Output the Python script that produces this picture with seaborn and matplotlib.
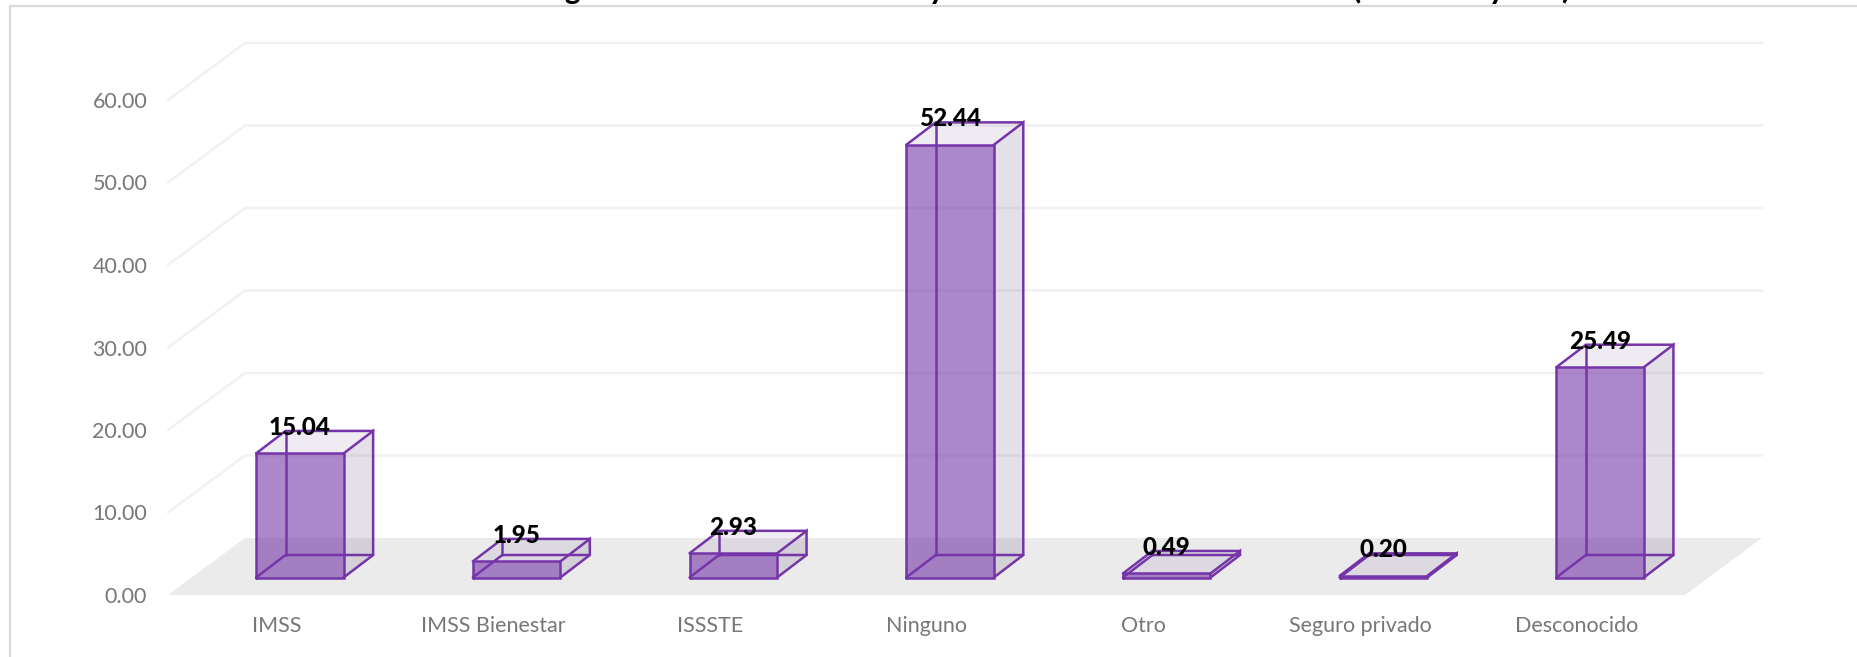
import numpy as np
import seaborn as sns
import matplotlib.pyplot as plt
from matplotlib.lines import Line2D

###############################
######### data ################
###############################
categorias = ['IMSS', 'IMSS Bienestar', 'ISSSTE', 'Ninguno', 'Otro', 'Seguro privado', 'Desconocido']
valores = [15.04, 1.95, 2.93, 52.44, 0.49, 0.20, 25.49]
y_ticks = [0, 10, 20, 30, 40, 50, 60]

# the title is cut off at the top of the picture, only these descenders show
titulo_letras = ['g', 'y', '(', 'y', ')']
titulo_x = [572, 937, 1357, 1497, 1565]

###############################
######### plot ################
###############################
W, H = 1858, 657
sns.set_theme(style='white')
plt.rcParams['font.family'] = ['Lato', 'DejaVu Sans']

morado = '#7535A8'
relleno = '#7030A6'
gris_txt = '#777777'

fig = plt.figure(figsize=(W / 100, H / 100), dpi=100)

# front plane of the chart, in pixels
left, right, bottom, top = 168, 1685, 595, 100
ax = fig.add_axes([left / W, 1 - bottom / H, (right - left) / W, (bottom - top) / H])
# plane of the bars sits a bit behind it
ax_b = fig.add_axes([(left + 23.5) / W, 1 - (bottom - 17.5) / H, (right - left) / W, (bottom - top) / H])
ax_b.patch.set_alpha(0)

px_x = (right - left) / len(categorias)
px_y = (bottom - top) / 60

ax.set_xlim(-0.5, 6.5)
ax.set_ylim(0, 60)
ax.set_yticks(y_ticks)
ax.set_yticklabels(['%.2f' % t for t in y_ticks])
ax.set_xticks(range(len(categorias)))
ax.set_xticklabels(categorias)
ax.tick_params(axis='y', length=0, pad=15, labelsize=15.5, labelcolor=gris_txt)
ax.tick_params(axis='x', length=0, pad=15, labelsize=15.5, labelcolor=gris_txt)
sns.despine(ax=ax, left=True, bottom=True)

# floor and walls
dx = 77 / px_x
dy = 57 / px_y
ax.fill([-0.5, -0.5 + dx, 6.5 + dx, 6.5], [0, dy, dy, 0], color='#EBEBEB', lw=0, clip_on=False, zorder=1)
for t in y_ticks[1:]:
    ax.plot([-0.5, -0.5 + dx, 6.5 + dx], [t, t + dy, t + dy], color='#F1F1F1', lw=1.8,
            clip_on=False, zorder=1, solid_joinstyle='miter')

# bars
sns.barplot(x=categorias, y=valores, color=relleno, saturation=1, width=0.404, alpha=0.58, linewidth=0, ax=ax_b)
ax_b.set_xlim(-0.5, 6.5)
ax_b.set_ylim(0, 60)
ax_b.axis('off')

# 3d look, depth of the boxes
bx = 29.5 / px_x
by = 22.5 / px_y
for patch, val in zip(ax_b.patches, valores):
    x0 = patch.get_x()
    x1 = x0 + patch.get_width()
    h = patch.get_height()
    # side and top faces
    ax_b.fill([x1, x1 + bx, x1 + bx, x1], [0, by, h + by, h], color='#5F4C76', alpha=0.17, lw=0, clip_on=False)
    ax_b.fill([x0, x0 + bx, x1 + bx, x1], [h, h + by, h + by, h], color='#7A5C96', alpha=0.12, lw=0, clip_on=False)
    # edges
    segs = [([x0, x0, x1, x1, x0], [0, h, h, 0, 0]),
            ([x1, x1 + bx, x1 + bx, x1], [h, h + by, by, 0]),
            ([x0, x0 + bx, x1 + bx], [h, h + by, h + by]),
            ([x0, x0 + bx, x1 + bx], [0, by, by]),
            ([x0 + bx, x0 + bx], [by, h + by])]
    for sx, sy in segs:
        ax_b.plot(sx, sy, color=morado, lw=1.8, clip_on=False, solid_joinstyle='miter')
    ax_b.annotate('%.2f' % val, (x0 + patch.get_width() / 2, h + by), xytext=(0, 2.5),
                  textcoords='offset points', ha='center', va='center',
                  fontsize=17.5, fontweight=900, color='black', annotation_clip=False)

# chart frame
fig.add_artist(Line2D([10 / W, 10 / W, 1], [0, 1 - 6 / H, 1 - 6 / H], color='#D9D9D9', lw=1.6))

# cut title
for letra, x in zip(titulo_letras, titulo_x):
    fig.text(x / W, 1 + 0.5 / H, letra, fontsize=21, fontweight=900, color='black', ha='center', va='baseline')

fig.savefig('out.png', dpi=100)
